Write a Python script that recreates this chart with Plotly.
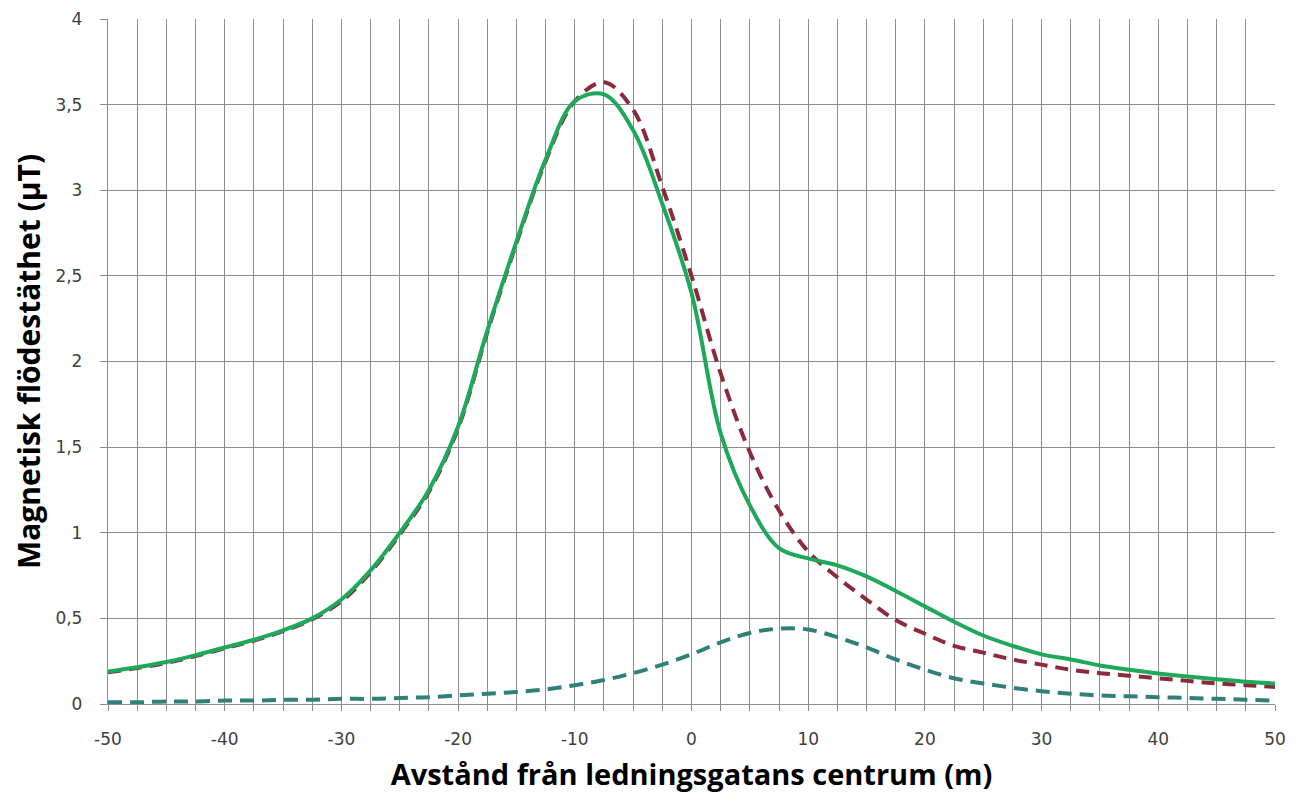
import plotly.graph_objects as go

x_m = [-50, -47.5, -45, -42.5, -40, -37.5, -35, -32.5, -30, -27.5, -25, -22.5, -20,
       -17.5, -15, -12.5, -10, -7.5, -5, -2.5, 0, 2.5, 5, 7.5, 10, 12.5, 15, 17.5,
       20, 22.5, 25, 27.5, 30, 32.5, 35, 37.5, 40, 42.5, 45, 47.5, 50]

green_solid = [0.19, 0.215, 0.245, 0.285, 0.33, 0.375, 0.43, 0.50, 0.61, 0.78, 1.00, 1.25, 1.62,
               2.18, 2.70, 3.18, 3.52, 3.56, 3.35, 2.92, 2.40, 1.58, 1.16, 0.91, 0.85, 0.81, 0.745, 0.66,
               0.57, 0.48, 0.40, 0.34, 0.29, 0.26, 0.225, 0.20, 0.178, 0.16, 0.145, 0.13, 0.12]

red_dashed = [0.185, 0.21, 0.24, 0.28, 0.325, 0.37, 0.425, 0.495, 0.60, 0.77, 0.99, 1.24, 1.61,
              2.17, 2.69, 3.17, 3.52, 3.63, 3.47, 3.02, 2.50, 1.93, 1.47, 1.13, 0.89, 0.74, 0.61, 0.49,
              0.41, 0.34, 0.30, 0.26, 0.23, 0.20, 0.18, 0.165, 0.15, 0.135, 0.12, 0.11, 0.10]

teal_dashed = [0.01, 0.01, 0.015, 0.015, 0.02, 0.02, 0.025, 0.025, 0.03, 0.03, 0.035, 0.04, 0.05,
               0.06, 0.07, 0.085, 0.11, 0.14, 0.18, 0.23, 0.29, 0.36, 0.415, 0.44, 0.435, 0.39, 0.33, 0.26,
               0.20, 0.15, 0.12, 0.095, 0.075, 0.06, 0.05, 0.045, 0.04, 0.035, 0.03, 0.025, 0.02]

x_tick_vals = [-50, -40, -30, -20, -10, 0, 10, 20, 30, 40, 50]
x_tick_text = ["-50", "-40", "-30", "-20", "-10", "0", "10", "20", "30", "40", "50"]

x_title = "Avstånd från ledningsgatans centrum (m)"
y_title = "Magnetisk flödestäthet (µT)"

fig = go.Figure()
fig.add_trace(go.Scatter(x=x_m, y=teal_dashed, mode="lines", line_shape="spline",
                         line=dict(color="#2f7f7a", width=4, dash="14px,8px"), showlegend=False))
fig.add_trace(go.Scatter(x=x_m, y=red_dashed, mode="lines", line_shape="spline",
                         line=dict(color="#8a2a3a", width=4, dash="13px,8px"), showlegend=False))
fig.add_trace(go.Scatter(x=x_m, y=green_solid, mode="lines", line_shape="spline",
                         line=dict(color="#1ea85a", width=4), showlegend=False))

grid = "#8c8c8c"
fig.update_layout(
    width=1285, height=785,
    margin=dict(l=100, r=18, t=11, b=89),
    paper_bgcolor="white", plot_bgcolor="white",
    separators=", ",
    font=dict(family="DejaVu Sans", color="#404040"),
    xaxis=dict(
        automargin=False,
        range=[-50, 50], tickmode="array", tickvals=x_tick_vals, ticktext=x_tick_text,
        showgrid=True, gridcolor=grid, gridwidth=1.3,
        ticks="outside", ticklen=6, tickcolor=grid, zeroline=False,
        showline=True, linecolor=grid, linewidth=1.3, ticklabelstandoff=13,
        minor=dict(dtick=2.5, tick0=-50, showgrid=True, gridcolor=grid, gridwidth=1.3,
                   ticks="outside", ticklen=6, tickcolor=grid),
        tickfont=dict(size=17, family="DejaVu Sans", color="#404040"),
        title=dict(text=x_title, standoff=21,
                   font=dict(size=29, family="Open Sans", color="#000000", weight="bold")),
    ),
    yaxis=dict(
        automargin=False,
        range=[0, 4], dtick=0.5, showgrid=True, gridcolor=grid, gridwidth=1.3,
        ticks="outside", ticklen=7, tickcolor=grid, zeroline=False,
        showline=True, linecolor=grid, linewidth=1.3, ticklabelstandoff=14,
        tickfont=dict(size=17, family="DejaVu Sans", color="#404040"),
        title=dict(text=y_title, standoff=8,
                   font=dict(size=30, family="Open Sans", color="#000000", weight="bold")),
    ),
)
fig.write_html("out.html")
